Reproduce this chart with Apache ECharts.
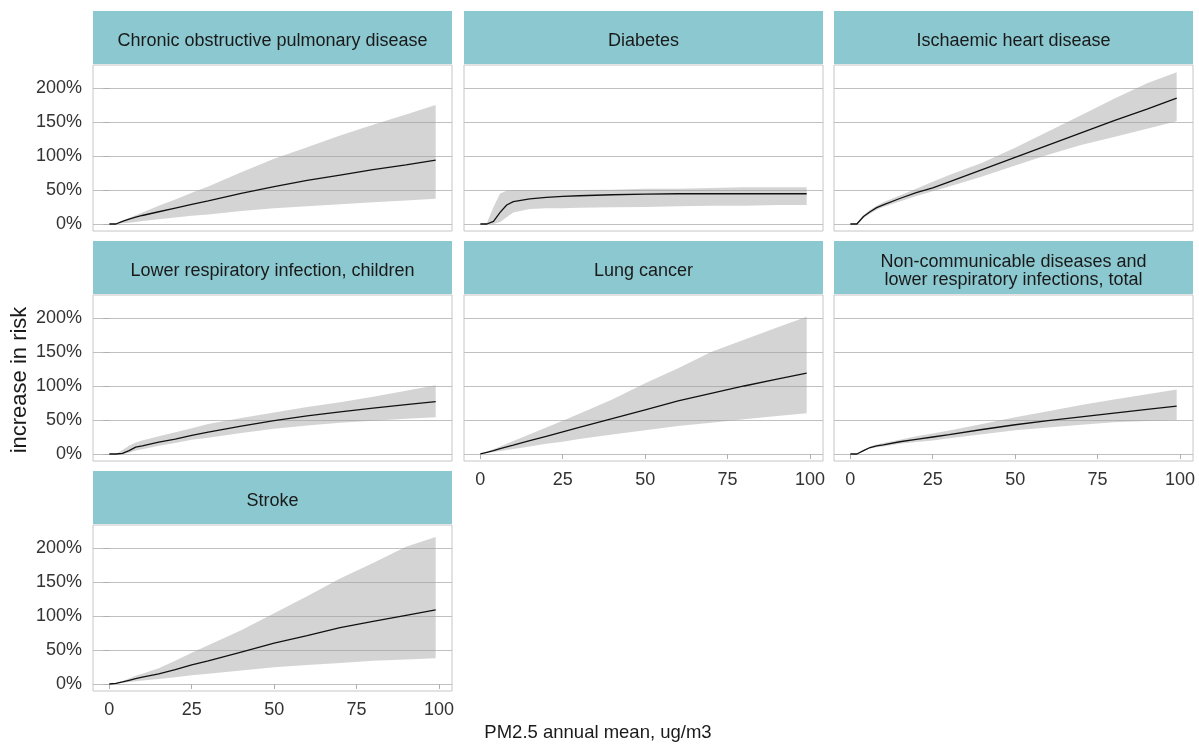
<!DOCTYPE html>
<html><head><meta charset="utf-8">
<script src="https://cdn.jsdelivr.net/npm/echarts@6/dist/echarts.min.js"></script>
<style>html,body{margin:0;padding:0;background:#fff}#c{width:1199px;height:745px}</style>
</head><body><div id="c"></div>
<script>
// PM2.5 annual mean (ug/m3) sample points
const pm25 = [0, 2, 4, 6, 8, 10, 15, 20, 25, 30, 40, 50, 60, 70, 80, 90, 99];

const xTickValues = [0, 25, 50, 75, 100];
const yTickValues = [0, 50, 100, 150, 200];

// Chronic obstructive pulmonary disease
const copdMid  = [0, 0, 4, 7, 10, 12.5, 18, 23.5, 29, 34, 45, 55, 64, 72, 80, 87, 94];
const copdLow  = [0, 0, 1, 2, 3, 4.5, 7, 9.5, 12, 14, 19, 23, 26, 29, 32, 34.5, 37];
const copdHigh = [0, 1, 5, 9, 13, 17, 27, 36, 46, 55, 76, 96, 113, 130, 146, 161, 175];

// Diabetes
const diabMid  = [0, 0, 4, 17, 28, 33, 37, 39, 40.5, 41.5, 43, 44, 44.5, 44.5, 44.5, 44.5, 44.5];
const diabLow  = [0, 0, 0, 3, 10, 17, 22, 23, 23, 24, 24.5, 25, 26, 27, 27, 28, 28];
const diabHigh = [0, 2, 25, 45, 49, 50, 50, 50, 50, 50, 50.5, 52, 52, 53, 54, 54, 54];

// Ischaemic heart disease
const ihdMid  = [0, 0, 11, 18, 24, 28, 37.5, 46, 53, 62, 80, 98, 116, 134, 152, 169, 185];
const ihdLow  = [0, 0, 9, 15, 21, 25, 33, 41, 48, 55, 70, 86, 102, 116, 128, 140, 151];
const ihdHigh = [0, 1, 13, 21, 27, 32, 42, 52, 62, 72, 90, 112, 136, 160, 184, 207, 223];

// Lower respiratory infection, children
const lriMid  = [0, 0, 1, 5, 10, 12, 17.5, 22, 27.5, 32, 41, 49, 56, 62, 67.5, 72.5, 77];
const lriLow  = [0, 0, 0, 2, 5, 7, 12, 16, 21, 24, 31, 37, 42, 46, 49, 52, 54];
const lriHigh = [0, 0, 6, 12, 17, 20, 26, 32, 38, 44, 53, 61, 69, 76, 84, 93, 101];

// Lung cancer
const lungMid  = [0, 2.5, 5, 8, 10.5, 13, 19.5, 26, 32.5, 39, 52, 65, 78, 89, 100, 110, 119];
const lungLow  = [0, 1.5, 3, 4.5, 6, 7.5, 11, 15, 18, 22, 28.5, 35, 41, 46, 51, 56, 60];
const lungHigh = [0, 3.5, 7, 11, 15, 19, 29, 39, 49, 59, 80, 104, 126, 150, 168, 186, 202];

// Non-communicable diseases and lower respiratory infections, total
const ncdMid  = [0, 0, 5, 9.5, 12, 13.5, 18, 21.5, 25, 28.5, 36, 43, 49, 54.5, 60, 65.5, 70.5];
const ncdLow  = [0, 0, 4, 8, 10, 11, 15, 17.5, 20, 23, 29, 35, 39, 43, 46.5, 48.5, 50];
const ncdHigh = [0, 0, 6, 11, 14, 16, 21, 26, 30, 34.5, 44, 54, 63, 72, 80, 88, 95];

// Stroke
const strokeMid  = [0, 1, 3, 5.5, 8, 10, 15, 21, 28, 34, 47, 60, 71, 83, 92, 101, 109];
const strokeLow  = [0, 0.5, 1.5, 3, 4, 5, 7.5, 10, 13, 15, 20, 24.5, 28, 31, 34, 36, 38];
const strokeHigh = [0, 1.5, 4.5, 8, 12, 15, 23, 34, 46, 57, 79, 104, 129, 155, 178, 202, 216];

const panelTitles = [
  'Chronic obstructive pulmonary disease',
  'Diabetes',
  'Ischaemic heart disease',
  'Lower respiratory infection, children',
  'Lung cancer',
  'Non-communicable diseases and\nlower respiratory infections, total',
  'Stroke'
];
const xTitle = 'PM2.5 annual mean, ug/m3';
const yTitle = 'increase in risk';

const panelData = [
  [copdMid, copdLow, copdHigh],
  [diabMid, diabLow, diabHigh],
  [ihdMid, ihdLow, ihdHigh],
  [lriMid, lriLow, lriHigh],
  [lungMid, lungLow, lungHigh],
  [ncdMid, ncdLow, ncdHigh],
  [strokeMid, strokeLow, strokeHigh]
];

// ---- layout ----
const FONT = "'Liberation Sans', Arial, sans-serif";
const colLeft = [93, 464, 834];
const plotW = 359;
const rowTop = [65, 295, 525];
const plotH = 166;
const stripH = 53;
const stripColor = '#8BC8D0';
const bottomPanel = [6, 4, 5]; // last panel in each column gets x labels

const grids = [], xAxes = [], yAxes = [], series = [], graphics = [];
panelTitles.forEach((title, i) => {
  const col = i % 3, row = Math.floor(i / 3);
  const left = colLeft[col], top = rowTop[row];
  grids.push({left: left, top: top, width: plotW, height: plotH, show: true,
    borderColor: '#c6c6c6', borderWidth: 1, backgroundColor: 'transparent', containLabel: false});
  const showX = bottomPanel[col] === i;
  const showY = col === 0;
  xAxes.push({gridIndex: i, type: 'value', min: -4.95, max: 103.95,
    axisLine: {show: false}, splitLine: {show: false},
    axisTick: {show: showX, length: 5, lineStyle: {color: '#b0b0b0'}, customValues: xTickValues},
    axisLabel: {show: showX, customValues: xTickValues, color: '#333', fontSize: 18, fontFamily: FONT, margin: 10}
  });
  yAxes.push({gridIndex: i, type: 'value', min: -10.3, max: 233.8,
    axisLine: {show: false},
    splitLine: {show: true, lineStyle: {color: '#c0c0c0', width: 1}},
    axisTick: {show: showY, length: 6, lineStyle: {color: '#b0b0b0'}, customValues: yTickValues},
    axisLabel: {show: showY, customValues: yTickValues, formatter: '{value}%', color: '#333', fontSize: 18, fontFamily: FONT, margin: 11}
  });
  const [mid, low, high] = panelData[i];
  // confidence band as a polygon placed through the axes' scales
  series.push({type: 'custom', xAxisIndex: i, yAxisIndex: i, silent: true, z: 1,
    encode: {x: 0, y: [1, 2]},
    data: pm25.map((x, k) => [x, low[k], high[k]]),
    renderItem: function (params, api) {
      if (params.dataIndex !== 0) return null;
      const upper = pm25.map((x, k) => api.coord([x, high[k]]));
      const lower = pm25.map((x, k) => api.coord([x, low[k]])).reverse();
      return {type: 'polygon', shape: {points: upper.concat(lower)},
        style: {fill: 'rgba(160,160,160,0.45)'}};
    }
  });
  series.push({type: 'line', xAxisIndex: i, yAxisIndex: i, symbol: 'none', silent: true, z: 3,
    lineStyle: {color: '#111', width: 1.3}, data: pm25.map((x, k) => [x, mid[k]])});
  // strip header
  graphics.push({type: 'rect', shape: {x: left, y: top - stripH - 1, width: plotW, height: stripH},
    style: {fill: stripColor}, silent: true});
  graphics.push({type: 'text', x: left + plotW / 2, y: top - stripH / 2 + 2.5,
    style: {text: title, fill: '#1a1a1a', fontSize: 18, fontFamily: FONT, align: 'center', verticalAlign: 'middle', lineHeight: 18.5},
    silent: true});
});
graphics.push({type: 'text', x: 598, y: 733,
  style: {text: xTitle, fill: '#1a1a1a', fontSize: 18.5, fontFamily: FONT, align: 'center', verticalAlign: 'middle'}, silent: true});
graphics.push({type: 'text', x: 20, y: 380, rotation: Math.PI / 2,
  style: {text: yTitle, fill: '#1a1a1a', fontSize: 22, fontFamily: FONT, align: 'center', verticalAlign: 'middle'}, silent: true});

const chart = echarts.init(document.getElementById('c'), null, {renderer: 'canvas'});
chart.setOption({
  animation: false,
  backgroundColor: '#fff',
  grid: grids, xAxis: xAxes, yAxis: yAxes, series: series, graphic: graphics
});
</script></body></html>
